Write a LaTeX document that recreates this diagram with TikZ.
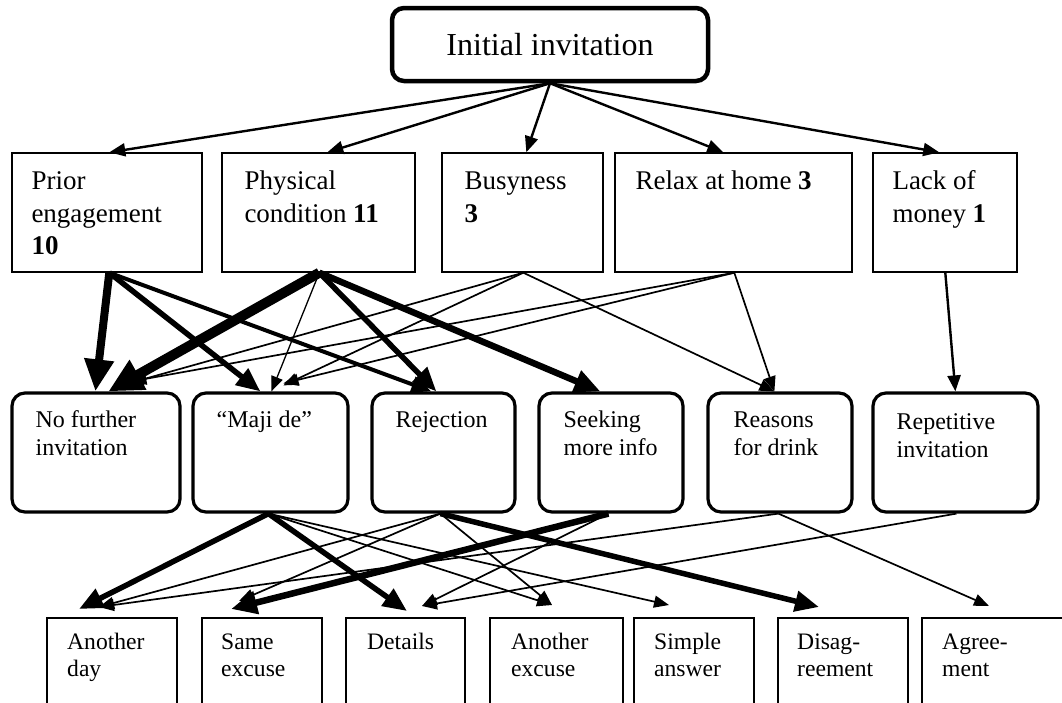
\documentclass[tikz,border=0pt]{standalone}
\usepackage{fontspec}
\setmainfont{Liberation Serif}
\usetikzlibrary{arrows.meta,calc}
\newcommand\strA{\rule{0pt}{22pt}}
\newcommand\strB{\rule{0pt}{20pt}}
\begin{document}
\begin{tikzpicture}[x=1pt,y=-1pt,
  topbox/.style={draw, rounded corners=12pt, line width=4.5pt, inner sep=0pt, font=\fontsize{32}{38}\selectfont},
  rtwo/.style={draw, line width=1.4pt, minimum height=119pt, inner sep=0pt},
  rthree/.style={draw, line width=3.2pt, rounded corners=13pt, minimum height=119pt, inner sep=0pt},
  rfour/.style={draw, line width=2pt, minimum height=102pt, inner sep=0pt},
  ttwo/.style={anchor=north west, inner sep=0pt, align=left, font=\fontsize{27}{32.5}\selectfont},
  tthree/.style={anchor=north west, inner sep=0pt, align=left, font=\fontsize{24}{28}\selectfont},
  tfour/.style={anchor=north west, inner sep=0pt, align=left, font=\fontsize{23.6}{27}\selectfont},
  hair/.style={line width=1.3pt, -{Triangle[length=15pt,width=12pt]}},
  thin/.style={line width=1.7pt, -{Triangle[length=15pt,width=12pt]}},
  med/.style={line width=2.4pt, -{Triangle[length=16pt,width=13pt]}},
  thkB/.style={line width=4pt, -{Triangle[length=20pt,width=16pt]}},
  thkC/.style={line width=5.5pt, -{Triangle[length=24pt,width=20pt]}},
  thkD/.style={line width=6.5pt, -{Triangle[length=26pt,width=22pt]}},
  thkE/.style={line width=8pt, -{Triangle[length=32pt,width=28pt]}},
  thkF/.style={line width=10pt, -{Triangle[length=34pt,width=32pt]}}
]
\useasboundingbox (0,0) rectangle (1062,702);
\clip (0,0) rectangle (1062,702);

% top
\node[topbox, minimum width=316pt, minimum height=73pt] (init) at (550,44.5) {Initial invitation};

% row 2
\node[rtwo, minimum width=190pt] (prior) at (107,212.5) {};
\node[rtwo, minimum width=193pt] (phys) at (318.5,212.5) {};
\node[rtwo, minimum width=161pt] (busy) at (522.5,212.5) {};
\node[rtwo, minimum width=237pt] (relax) at (733.5,212.5) {};
\node[rtwo, minimum width=144pt] (lack) at (945,212.5) {};
\node[ttwo] (priorT) at ($(prior.north west)+(20,15)$) {\strA Prior\\engagement\\\textbf{10}};
\node[ttwo] (physT) at ($(phys.north west)+(23,15)$) {\strA Physical\\condition \textbf{11}};
\node[ttwo] (busyT) at ($(busy.north west)+(23,15)$) {\strA Busyness\\\textbf{3}};
\node[ttwo] (relaxT) at ($(relax.north west)+(21,15)$) {\strA Relax at home \textbf{3}};
\node[ttwo] (lackT) at ($(lack.north west)+(20,15)$) {\strA Lack of\\money \textbf{1}};

% row 3
\node[rthree, minimum width=168pt] (nf) at (96,452.5) {};
\node[rthree, minimum width=155pt] (maji) at (270.5,452.5) {};
\node[rthree, minimum width=143pt] (rej) at (443.5,452.5) {};
\node[rthree, minimum width=144pt] (seek) at (611,452.5) {};
\node[rthree, minimum width=144pt] (reas) at (780,452.5) {};
\node[rthree, minimum width=165pt] (rep) at (955.5,452.5) {};
\node[tthree] (nfT) at ($(nf.north west)+(25,16)$) {\strB No further\\invitation};
\node[tthree] (majiT) at ($(maji.north west)+(25,16)$) {\strB “Maji de”};
\node[tthree] (rejT) at ($(rej.north west)+(25,16)$) {\strB Rejection};
\node[tthree] (seekT) at ($(seek.north west)+(26,16)$) {\strB Seeking\\more info};
\node[tthree] (reasT) at ($(reas.north west)+(27,16)$) {\strB Reasons\\for drink};
\node[tthree] (repT) at ($(rep.north west)+(25,18)$) {\strB Repetitive\\invitation};

% row 4
\node[rfour, minimum width=130pt] (ad) at (112,669) {};
\node[rfour, minimum width=120pt] (se) at (262,669) {};
\node[rfour, minimum width=119pt] (det) at (405.5,669) {};
\node[rfour, minimum width=133pt] (ae) at (556.5,669) {};
\node[rfour, minimum width=120pt] (sa) at (694,669) {};
\node[rfour, minimum width=130pt] (dis) at (843,669) {};
\node[rfour, minimum width=153pt] (agr) at (998.5,669) {};
\node[tfour] (adT) at ($(ad.north west)+(21,12)$) {\strB Another\\day};
\node[tfour] (seT) at ($(se.north west)+(20,12)$) {\strB Same\\excuse};
\node[tfour] (detT) at ($(det.north west)+(22,12)$) {\strB Details};
\node[tfour] (aeT) at ($(ae.north west)+(22,12)$) {\strB Another\\excuse};
\node[tfour] (saT) at ($(sa.north west)+(21,12)$) {\strB Simple\\answer};
\node[tfour] (disT) at ($(dis.north west)+(20,12)$) {\strB Disag-\\reement};
\node[tfour] (agrT) at ($(agr.north west)+(21,12)$) {\strB Agree-\\ment};

% top -> row 2
\draw[med] (init.south) -- ([xshift=98pt]prior.north west);
\draw[med] (init.south) -- ([xshift=106pt]phys.north west);
\draw[med] (init.south) -- ([xshift=85pt]busy.north west);
\draw[med] (init.south) -- ([xshift=109pt]relax.north west);
\draw[med] (init.south) -- ([xshift=67pt]lack.north west);

% row 2 -> row 3
\draw[thkE] ([xshift=98pt]prior.south west) -- ([xshift=85pt]nf.north west);
\draw[thkC] ([xshift=98pt]prior.south west) -- ([xshift=69pt]maji.north west);
\draw[thkB] ([xshift=98pt]prior.south west) -- ([xshift=61pt]rej.north west);
\draw[thkF] ([xshift=98pt]phys.south west) -- ([xshift=98pt]nf.north west);
\draw[hair] ([xshift=98pt]phys.south west) -- ([xshift=80pt]maji.north west);
\draw[thkC] ([xshift=98pt]phys.south west) -- ([xshift=66pt]rej.north west);
\draw[thkD] ([xshift=98pt]phys.south west) -- ([xshift=63pt]seek.north west);
\draw[thin] ([xshift=82pt]busy.south west) -- ([xshift=118pt,yshift=8pt]nf.north west);
\draw[thin] ([xshift=82pt]busy.south west) -- ([xshift=92pt,yshift=6pt]maji.north west);
\draw[thin] ([xshift=82pt]busy.south west) -- ([xshift=68pt]reas.north west);
\draw[thin] ([xshift=120pt]relax.south west) -- ([xshift=121pt,yshift=10pt]nf.north west);
\draw[thin] ([xshift=120pt]relax.south west) -- ([xshift=92pt,yshift=8pt]maji.north west);
\draw[thin] ([xshift=120pt]relax.south west) -- ([xshift=68pt]reas.north west);
\draw[med] ([xshift=73pt]lack.south west) -- ([xshift=84pt]rep.north west);

% row 3 -> row 4
\draw[thkC] ([xshift=77pt]maji.south west) -- ([xshift=33pt,yshift=8pt]ad.north west);
\draw[thkC] ([xshift=77pt]maji.south west) -- ([xshift=62pt,yshift=6pt]det.north west);
\draw[thin] ([xshift=77pt]maji.south west) -- ([xshift=63pt,yshift=12pt]ae.north west);
\draw[thin] ([xshift=77pt]maji.south west) -- ([xshift=36pt,yshift=12pt]sa.north west);
\draw[thin] ([xshift=70pt]rej.south west) -- ([xshift=53pt,yshift=10pt]ad.north west);
\draw[thin] ([xshift=70pt]rej.south west) -- ([xshift=38pt,yshift=16pt]se.north west);
\draw[thin] ([xshift=70pt]rej.south west) -- ([xshift=63pt,yshift=12pt]ae.north west);
\draw[thkC] ([xshift=70pt]rej.south west) -- ([xshift=42pt,yshift=10pt]dis.north west);
\draw[thkD] ([xshift=71pt]seek.south west) -- ([xshift=30pt,yshift=8pt]se.north west);
\draw[thin] ([xshift=71pt]seek.south west) -- ([xshift=77pt,yshift=11pt]det.north west);
\draw[thin] ([xshift=72pt]reas.south west) -- ([xshift=53pt,yshift=10pt]ad.north west);
\draw[thin] ([xshift=72pt]reas.south west) -- ([xshift=68pt,yshift=11pt]agr.north west);
\draw[thin] ([xshift=85pt]rep.south west) -- ([xshift=77pt,yshift=11pt]det.north west);
\end{tikzpicture}
\end{document}
